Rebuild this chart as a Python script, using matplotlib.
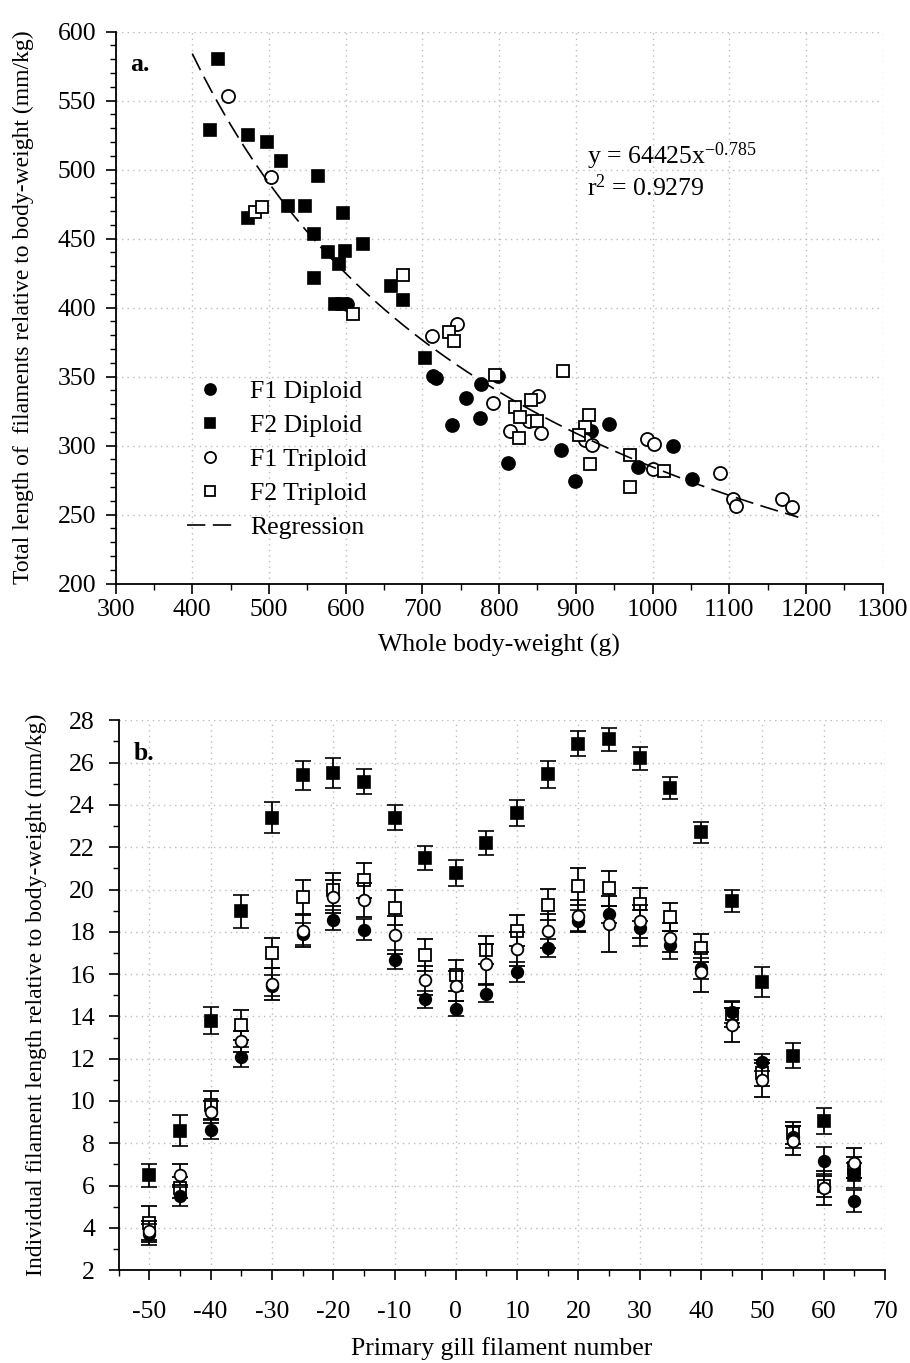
import matplotlib
matplotlib.use("Agg")
import matplotlib.pyplot as plt
from matplotlib.ticker import MultipleLocator
import numpy as np

plt.rcParams['font.family'] = ['Liberation Serif', 'DejaVu Serif']
plt.rcParams['mathtext.fontset'] = 'custom'
plt.rcParams['mathtext.rm'] = 'Liberation Serif'
plt.rcParams['mathtext.it'] = 'Liberation Serif:italic'

FS = 18.5
FS_YLAB = 17

# ---------------- Panel a data ----------------
f1d_x = [602, 714.2, 717.3, 776.4, 799, 756.8, 739, 775.1, 811.6, 881.1, 899.4, 919.4, 942.9, 981.1, 1027.1, 1051.9]
f1d_y = [402.7, 350.7, 348.8, 344.7, 350.7, 334.3, 315.2, 319.9, 287.2, 296.9, 274.2, 310.4, 316, 284.8, 300, 276.1]

f2d_x = [433.9, 423.1, 473, 497.8, 515.6, 563.5, 525.2, 546.5, 472.6, 596.1, 558.7, 576.9, 599.5, 622.6, 590.9, 558.7, 586, 595, 658.7, 674.3, 703.4]
f2d_y = [580, 528.8, 525.1, 520.3, 506.5, 495.4, 473.7, 473.7, 464.8, 468.8, 453.4, 440.6, 441.3, 445.9, 431.4, 421.3, 402.7, 402.7, 416, 405.6, 363.3]

f1t_x = [446.2, 502.6, 712.9, 745.5, 791.6, 850.7, 839.4, 854.2, 814.2, 912, 921.5, 1001, 992.8, 1001.6, 1088, 1105.4, 1108.5, 1168.8, 1182.3]
f1t_y = [553.4, 494.5, 379.7, 388, 331.2, 336.2, 318.1, 309.4, 310.9, 304.1, 300.5, 282.9, 304.9, 301.2, 280.4, 261.4, 256.5, 261.4, 255.8]

f2t_x = [481.7, 490.5, 609.1, 674.3, 735, 741.2, 794.3, 841.2, 820.3, 827.2, 849, 825.5, 882.9, 917.6, 912, 904.6, 918.1, 971, 970.3, 1015.4]
f2t_y = [469.6, 472.8, 395.2, 423.7, 382.2, 375.9, 351.2, 333.1, 328.3, 320.6, 318.1, 305.6, 354.3, 322.5, 313.8, 307.8, 287, 293.5, 270.3, 281.4]

reg_a, reg_b = 64425, -0.785
reg_xmin, reg_xmax = 400, 1190

# ---------------- Panel b data ----------------
fil = [-50, -45, -40, -35, -30, -25, -20, -15, -10, -5, 0, 5, 10, 15, 20, 25, 30, 35, 40, 45, 50, 55, 60, 65]

b_f1d = [3.69, 5.5, 8.65, 12.06, 15.45, 17.9, 18.57, 18.1, 16.69, 14.8, 14.37, 15.08, 16.08, 17.25, 18.52, 18.82, 18.19, 17.37, 16.28, 14.21, 11.84, 8.3, 7.18, 5.26]
b_f1d_err = [0.5, 0.45, 0.44, 0.47, 0.5, 0.5, 0.47, 0.5, 0.45, 0.38, 0.36, 0.39, 0.47, 0.42, 0.5, 0.4, 0.85, 0.67, 0.5, 0.5, 0.4, 0.5, 0.65, 0.52]

b_f2d = [6.49, 8.6, 13.8, 18.97, 23.4, 25.4, 25.5, 25.1, 23.4, 21.48, 20.79, 22.19, 23.61, 25.44, 26.9, 27.1, 26.2, 24.81, 22.7, 19.44, 15.62, 12.14, 9.04, 6.49]
b_f2d_err = [0.55, 0.75, 0.65, 0.78, 0.75, 0.7, 0.7, 0.6, 0.6, 0.58, 0.6, 0.56, 0.6, 0.65, 0.6, 0.55, 0.55, 0.53, 0.49, 0.52, 0.71, 0.6, 0.62, 0.6]

b_f1t = [3.83, 6.52, 9.48, 12.83, 15.52, 18.04, 19.67, 19.52, 17.87, 15.7, 15.44, 16.47, 17.19, 18.03, 18.75, 18.38, 18.49, 17.73, 16.09, 13.58, 10.99, 8.13, 5.89, 7.07]
b_f1t_err = [0.5, 0.5, 0.5, 0.5, 0.75, 0.75, 0.8, 0.8, 0.9, 0.7, 0.7, 0.94, 0.8, 0.8, 0.75, 1.32, 0.8, 0.7, 0.94, 0.8, 0.8, 0.7, 0.8, 0.7]

b_f2t = [4.24, 5.89, 9.83, 13.59, 17.0, 19.64, 20.0, 20.43, 19.14, 16.91, 15.95, 17.13, 18.05, 19.29, 20.15, 20.05, 19.3, 18.71, 17.22, 14.1, 11.32, 8.49, 5.97, 6.85]
b_f2t_err = [0.8, 0.5, 0.66, 0.7, 0.7, 0.82, 0.8, 0.82, 0.82, 0.74, 0.74, 0.66, 0.74, 0.75, 0.86, 0.83, 0.77, 0.67, 0.67, 0.6, 0.6, 0.5, 0.5, 0.5]

labels = ["F1 Diploid", "F2 Diploid", "F1 Triploid", "F2 Triploid"]

fig = plt.figure(figsize=(9.10, 13.63), dpi=100)
axa = fig.add_axes([0.127, 0.5718, 0.843, 0.405])
axb = fig.add_axes([0.1304, 0.0681, 0.842, 0.4034])

grid_kw = dict(color='#bdbdbd', linestyle=(0, (1, 3)), linewidth=1.0)

def style(ax, xpad, ypad):
    for s in ['top', 'right']:
        ax.spines[s].set_visible(False)
    for s in ['left', 'bottom']:
        ax.spines[s].set_linewidth(1.3)
    ax.tick_params(which='major', direction='out', length=7, width=1.2, labelsize=FS)
    ax.tick_params(which='minor', direction='out', length=4, width=1.0)
    ax.tick_params(axis='x', which='major', pad=xpad)
    ax.tick_params(axis='y', which='major', pad=ypad)
    ax.grid(True, which='major', **grid_kw)
    ax.set_axisbelow(True)

hyphen = plt.FuncFormatter(lambda v, p: f"{int(round(v))}")

# ---- Panel a ----
msa = 9.4
axa.plot(f1d_x, f1d_y, 'o', ms=msa, mfc='black', mec='black', mew=1.2, label=labels[0], zorder=3)
axa.plot(f2d_x, f2d_y, 's', ms=msa - 0.4, mfc='black', mec='black', mew=1.2, label=labels[1], zorder=3)
axa.plot(f1t_x, f1t_y, 'o', ms=msa, mfc='white', mec='black', mew=1.3, label=labels[2], zorder=4)
axa.plot(f2t_x, f2t_y, 's', ms=msa - 0.4, mfc='white', mec='black', mew=1.3, label=labels[3], zorder=5)
xr = np.linspace(reg_xmin, reg_xmax, 300)
axa.plot(xr, reg_a * xr ** reg_b, color='black', lw=1.2, linestyle=(0, (11, 4.5)), label='Regression', zorder=6)

axa.set_xlim(300, 1300)
axa.set_ylim(200, 600)
axa.xaxis.set_major_locator(MultipleLocator(100))
axa.xaxis.set_minor_locator(MultipleLocator(50))
axa.yaxis.set_major_locator(MultipleLocator(50))
axa.yaxis.set_minor_locator(MultipleLocator(10))
style(axa, xpad=4, ypad=7)
axa.set_xlabel("Whole body-weight (g)", fontsize=FS, labelpad=9)
axa.set_ylabel("Total length of  filaments relative to body-weight (mm/kg)", fontsize=FS_YLAB, labelpad=17)
axa.text(0.019, 0.94, "a.", transform=axa.transAxes, fontsize=FS, fontweight='bold', va='center', ha='left')
axa.text(915, 510, r"y = 64425x$^{\mathrm{-0.785}}$", fontsize=FS, va='center', ha='left')
axa.text(915, 487, r"r$^{\mathrm{2}}$ = 0.9279", fontsize=FS, va='center', ha='left')
leg = axa.legend(loc='upper left', bbox_to_anchor=(0.093, 0.368), frameon=False, fontsize=FS,
                 handlelength=1.81, handletextpad=0.65, labelspacing=0.42, borderpad=0, borderaxespad=0,
                 markerscale=0.85)

# ---- Panel b ----
eb_kw = dict(ecolor='black', elinewidth=1.3, capsize=5.5, capthick=1.3)
msb_s = 8.6
msb_c = 8.4
axb.errorbar(fil, b_f2t, yerr=b_f2t_err, fmt='s', ms=msb_s, mfc='white', mec='black', mew=1.3, zorder=3, **eb_kw)
axb.errorbar(fil, b_f2d, yerr=b_f2d_err, fmt='s', ms=msb_s, mfc='black', mec='black', mew=1.2, zorder=4, **eb_kw)
axb.errorbar(fil, b_f1d, yerr=b_f1d_err, fmt='o', ms=msb_c, mfc='black', mec='black', mew=1.2, zorder=5, **eb_kw)
axb.errorbar(fil, b_f1t, yerr=b_f1t_err, fmt='o', ms=msb_c, mfc='white', mec='black', mew=1.3, zorder=6, **eb_kw)

axb.set_xlim(-55, 70)
axb.set_ylim(2, 28)
axb.xaxis.set_major_locator(MultipleLocator(10))
axb.xaxis.set_minor_locator(MultipleLocator(5))
axb.yaxis.set_major_locator(MultipleLocator(2))
axb.yaxis.set_minor_locator(MultipleLocator(1))
style(axb, xpad=15, ypad=10)
axb.xaxis.set_major_formatter(hyphen)
axb.set_xlabel("Primary gill filament number", fontsize=FS, labelpad=10)
axb.set_ylabel("Individual filament length relative to body-weight (mm/kg)", fontsize=FS_YLAB, labelpad=16)
axb.text(0.019, 0.94, "b.", transform=axb.transAxes, fontsize=FS, fontweight='bold', va='center', ha='left')

fig.savefig("out.png", dpi=100)
